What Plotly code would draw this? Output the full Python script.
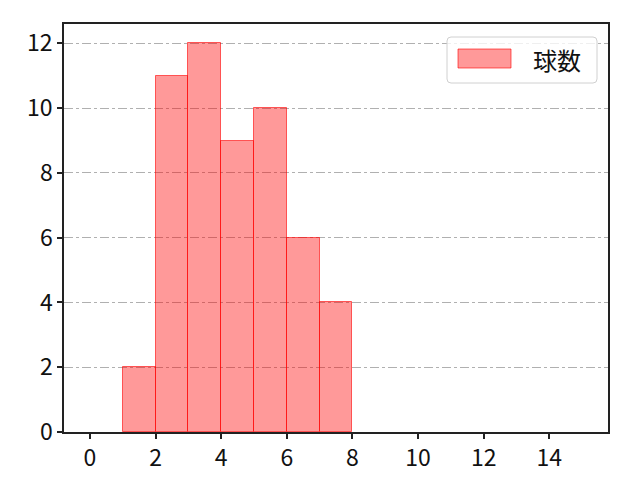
import plotly.graph_objects as go

bin_left = [1, 2, 3, 4, 5, 6, 7]
counts = [2, 11, 12, 9, 10, 6, 4]
bin_width = 1
series_name = "球数"
x_ticks = [0, 2, 4, 6, 8, 10, 12, 14]
y_ticks = [0, 2, 4, 6, 8, 10, 12]

centers = [b + bin_width / 2 for b in bin_left]

fig = go.Figure()
fig.add_trace(go.Bar(
    x=centers, y=counts, width=[bin_width] * len(counts),
    marker=dict(color="rgba(255,0,0,0.4)", line=dict(color="rgba(255,0,0,0.6)", width=1)),
    name=series_name, showlegend=False,
))

font = "Noto Sans CJK JP, Noto Sans, DejaVu Sans"
# page body has an offset; plot area in screen pixels: x 64..608, y 24..432
fig.update_layout(
    width=632, height=472,
    margin=dict(l=56, r=32, t=16, b=48),
    plot_bgcolor="white", paper_bgcolor="white",
    font=dict(family=font, size=23, color="#111"),
    bargap=0,
    xaxis=dict(range=[-0.79, 15.79], tickvals=x_ticks, ticks="outside", ticklen=5,
               tickwidth=1.5, tickcolor="#222", showgrid=False, showline=True,
               linecolor="#222", linewidth=1.5, mirror=True, zeroline=False,
               automargin=False),
    yaxis=dict(range=[0, 12.6], tickvals=y_ticks, ticks="outside", ticklen=5,
               tickwidth=1.5, tickcolor="#222", showgrid=True, gridcolor="#b0b0b0",
               griddash="dashdot", gridwidth=1, showline=True, linecolor="#222",
               linewidth=1.5, mirror=True, zeroline=False, automargin=False),
)

def px(x):
    return (x - 64) / 544

def py(y):
    return (432 - y) / 408

# legend box drawn manually (matplotlib style, rounded corners)
x0, x1, y0, y1 = px(447), px(597), py(83), py(37)
r = 4 / 544
ry = 4 / 408
path = (f"M {x0 + r},{y0} L {x1 - r},{y0} Q {x1},{y0} {x1},{y0 + ry} "
        f"L {x1},{y1 - ry} Q {x1},{y1} {x1 - r},{y1} L {x0 + r},{y1} "
        f"Q {x0},{y1} {x0},{y1 - ry} L {x0},{y0 + ry} Q {x0},{y0} {x0 + r},{y0} Z")
fig.add_shape(type="path", xref="paper", yref="paper", path=path,
              line=dict(color="#d0d0d0", width=1), fillcolor="rgba(255,255,255,0.8)")
fig.add_shape(type="rect", xref="paper", yref="paper",
              x0=px(458), x1=px(511), y0=py(68), y1=py(49),
              line=dict(color="rgba(255,0,0,0.6)", width=1), fillcolor="rgba(255,0,0,0.4)")
fig.add_annotation(xref="paper", yref="paper", x=px(531), y=py(59),
                   text=series_name, showarrow=False, xanchor="left", yanchor="middle",
                   font=dict(size=24, family=font, color="#111"))

fig.write_html("out.html")
